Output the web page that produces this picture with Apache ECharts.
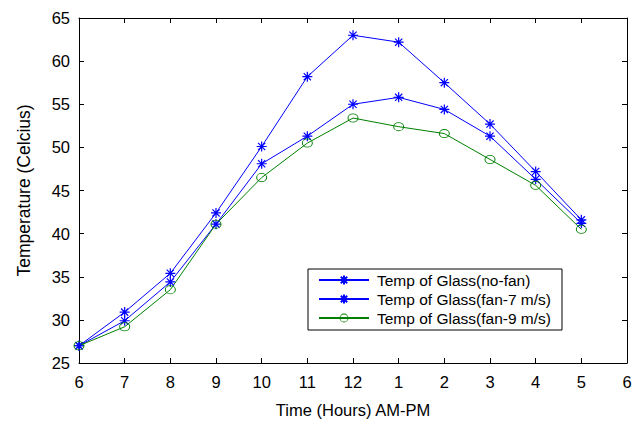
<!DOCTYPE html>
<html>
<head>
<meta charset="utf-8">
<script src="https://cdn.jsdelivr.net/npm/echarts@6/dist/echarts.min.js"></script>
<style>html,body{margin:0;padding:0;background:#fff}#c{width:643px;height:423px}</style>
</head>
<body>
<div id="c"></div>
<script>
var hours = ['6','7','8','9','10','11','12','1','2','3','4','5','6'];
var noFan = [27.0, 30.9, 35.4, 42.4, 50.1, 58.2, 63.0, 62.2, 57.5, 52.7, 47.2, 41.6];
var fan7  = [27.0, 29.9, 34.4, 41.1, 48.1, 51.3, 55.0, 55.8, 54.4, 51.3, 46.3, 41.2];
var fan9  = [27.0, 29.2, 33.5, 41.1, 46.5, 50.5, 53.4, 52.4, 51.6, 48.6, 45.6, 40.5];
var yTicks = [25, 30, 35, 40, 45, 50, 55, 60, 65];

var star = 'path://M0,-5L0,5M-5,0L5,0M-3.6,-3.6L3.6,3.6M-3.6,3.6L3.6,-3.6';
var ring = 'path://M-5,0A5,5 0 1,0 5,0A5,5 0 1,0 -5,0ZM-4.1,0A4.1,4.1 0 1,1 4.1,0A4.1,4.1 0 1,1 -4.1,0Z';
var font = 'Liberation Sans, Arial, sans-serif';
var chart = echarts.init(document.getElementById('c'), null, {renderer:'svg'});
var axisLine = {show:true, lineStyle:{color:'#000', width:1}};
chart.setOption({
  animation:false,
  backgroundColor:'#fff',
  textStyle:{fontFamily:font},
  grid:{left:79, right:16, top:18, bottom:60, containLabel:false},
  legend:{
    orient:'vertical', left:308, top:269,
    borderColor:'#000', borderWidth:1, padding:[3,11,4,10],
    itemWidth:50, itemHeight:11, itemGap:3,
    textStyle:{fontSize:15.5, color:'#000', fontFamily:font, padding:[0,0,0,3]},
    data:['Temp of Glass(no-fan)','Temp of Glass(fan-7 m/s)','Temp of Glass(fan-9 m/s)']
  },
  xAxis:[{
    type:'category', data:hours, boundaryGap:false,
    name:'Time (Hours) AM-PM', nameLocation:'middle', nameGap:38,
    nameTextStyle:{fontSize:16.5, color:'#000', fontFamily:font},
    axisLine:axisLine,
    axisTick:{show:true, inside:true, length:5, lineStyle:{color:'#000'}},
    axisLabel:{fontSize:16.5, color:'#000', margin:10, fontFamily:font, interval:0},
    splitLine:{show:false}
  },{
    type:'category', data:hours, boundaryGap:false, position:'top',
    axisLine:axisLine,
    axisTick:{show:true, inside:true, length:5, lineStyle:{color:'#000'}},
    axisLabel:{show:false}, splitLine:{show:false}
  }],
  yAxis:[{
    type:'value', min:yTicks[0], max:yTicks[yTicks.length-1], interval:5,
    name:'Temperature (Celcius)', nameLocation:'middle', nameGap:46,
    nameTextStyle:{fontSize:17.5, color:'#000', fontFamily:font},
    axisLine:axisLine,
    axisTick:{show:true, inside:true, length:5, lineStyle:{color:'#000'}},
    axisLabel:{fontSize:16.5, color:'#000', margin:9, fontFamily:font},
    splitLine:{show:false}
  },{
    type:'value', min:yTicks[0], max:yTicks[yTicks.length-1], interval:5, position:'right',
    axisLine:axisLine,
    axisTick:{show:true, inside:true, length:5, lineStyle:{color:'#000'}},
    axisLabel:{show:false}, splitLine:{show:false}
  }],
  series:[{
    name:'Temp of Glass(no-fan)', type:'line', data:noFan, clip:false,
    symbol:star, symbolSize:10, showAllSymbol:true,
    lineStyle:{color:'#0000ff', width:1},
    itemStyle:{color:'#0000ff', borderColor:'#0000ff', borderWidth:1.2}
  },{
    name:'Temp of Glass(fan-7 m/s)', type:'line', data:fan7, clip:false,
    symbol:star, symbolSize:10, showAllSymbol:true,
    lineStyle:{color:'#0000ff', width:1},
    itemStyle:{color:'#0000ff', borderColor:'#0000ff', borderWidth:1.2}
  },{
    name:'Temp of Glass(fan-9 m/s)', type:'line', data:fan9, clip:false,
    symbol:ring, symbolSize:[11,9], showAllSymbol:true,
    lineStyle:{color:'#008000', width:1},
    itemStyle:{color:'#008000', borderWidth:0}
  }]
});
</script>
</body>
</html>
